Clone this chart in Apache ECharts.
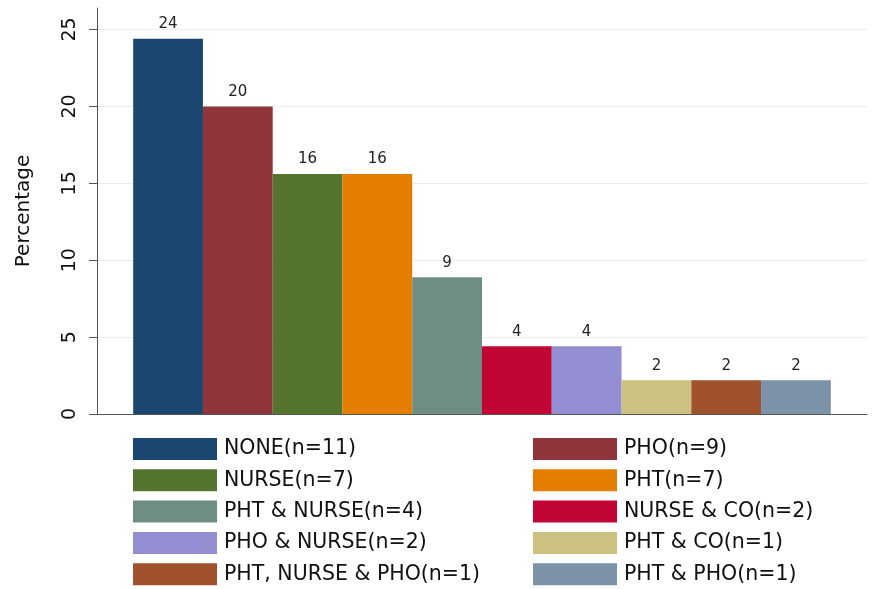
<!doctype html>
<html>
<head>
    <meta charset="UTF-8">
    <title>Percentage by group</title>
    <script src="https://cdn.jsdelivr.net/npm/echarts@6/dist/echarts.min.js"></script>
    <style>
        html, body { margin: 0; padding: 0; background: #fff; }
        #main { width: 875px; height: 589px; }
    </style>
</head>
<body>
<div id="main"></div>
<script type="text/javascript">
    // data
    var groups = ['NONE(n=11)', 'PHO(n=9)', 'NURSE(n=7)', 'PHT(n=7)', 'PHT & NURSE(n=4)',
        'NURSE & CO(n=2)', 'PHO & NURSE(n=2)', 'PHT & CO(n=1)', 'PHT, NURSE & PHO(n=1)', 'PHT & PHO(n=1)'];
    var percents = [24.4, 20.0, 15.6, 15.6, 8.9, 4.4, 4.4, 2.2, 2.2, 2.2];
    var colors = ['#1a476f', '#90353b', '#55752f', '#e37e00', '#6e8e84',
        '#c10534', '#938dd2', '#cac27e', '#a0522d', '#7b92a8'];
    var yTicks = [0, 5, 10, 15, 20, 25];

    var myChart = echarts.init(document.getElementById('main'));
    var font = 'DejaVu Sans';

    var series = [];
    for (var i = 0; i < groups.length; i++) {
        series.push({
            name: groups[i],
            type: 'bar',
            data: [percents[i]],
            barGap: '0%',
            barCategoryGap: '9.4%',
            itemStyle: {color: colors[i]},
            label: {
                show: true,
                position: 'top',
                distance: 7,
                color: '#222',
                fontFamily: font,
                fontSize: 15,
                formatter: function (p) { return Math.round(p.value); }
            }
        });
    }

    var legendBase = {
        orient: 'vertical',
        icon: 'rect',
        itemWidth: 84,
        itemHeight: 22,
        itemGap: 9.3,
        padding: 0,
        height: 160,
        selectedMode: false,
        textStyle: {fontFamily: font, fontSize: 20.5, color: '#111', padding: [0, 0, 0, 2]},
        top: 438
    };
    var leftLegend = Object.assign({}, legendBase, {
        left: 133,
        data: groups.filter(function (g, k) { return k % 2 === 0; })
    });
    var rightLegend = Object.assign({}, legendBase, {
        left: 533,
        data: groups.filter(function (g, k) { return k % 2 === 1; })
    });

    var option = {
        backgroundColor: '#ffffff',
        animation: false,
        grid: {left: 97, right: 8, top: 8, bottom: 175, containLabel: false},
        legend: [leftLegend, rightLegend],
        xAxis: {
            type: 'category',
            data: [''],
            axisLine: {lineStyle: {color: '#555', width: 1}},
            axisTick: {show: false},
            axisLabel: {show: false}
        },
        yAxis: {
            type: 'value',
            min: 0,
            max: 26.4,
            interval: 5,
            name: 'Percentage',
            nameLocation: 'middle',
            nameGap: 63,
            nameRotate: 90,
            nameTextStyle: {fontFamily: font, fontSize: 20, color: '#111'},
            axisLine: {show: true, lineStyle: {color: '#555', width: 1}},
            axisTick: {show: true, length: 8, lineStyle: {color: '#555'}, customValues: yTicks},
            axisLabel: {
                rotate: 90,
                margin: 17,
                fontFamily: font,
                fontSize: 19,
                color: '#111',
                customValues: yTicks
            },
            splitLine: {show: true, lineStyle: {color: '#e9eef0', width: 1}}
        },
        series: series
    };
    myChart.setOption(option);
</script>
</body>
</html>
